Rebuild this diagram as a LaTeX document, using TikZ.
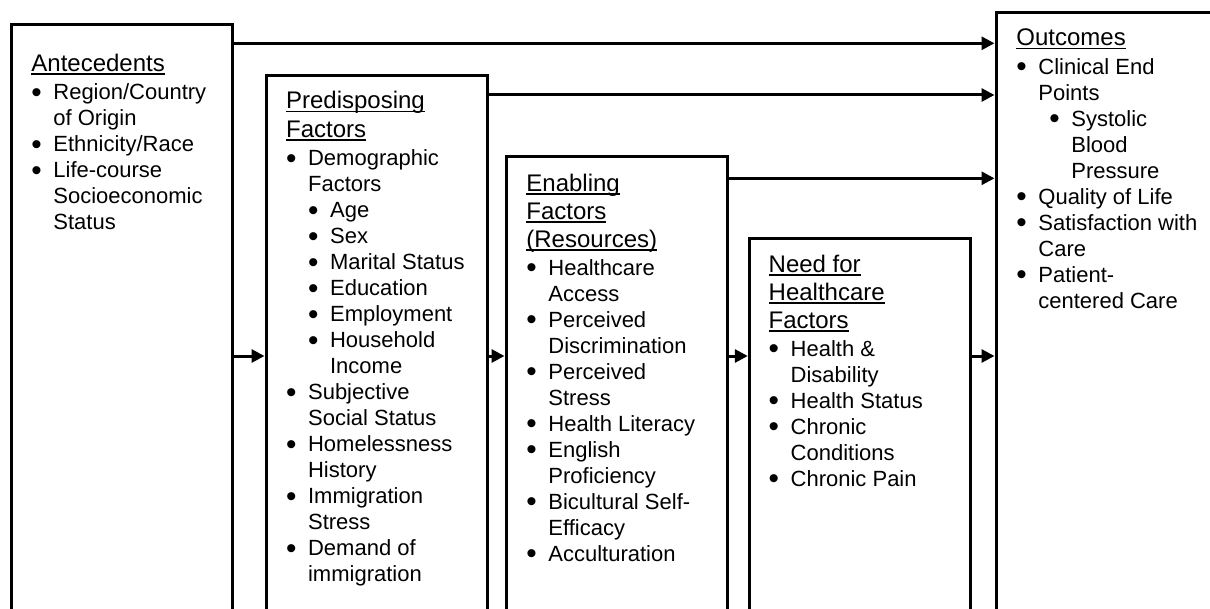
\documentclass[tikz,border=0pt]{standalone}
\usepackage{graphicx}
\usepackage{fontspec}
\setmainfont{Liberation Sans}
\usetikzlibrary{arrows.meta,positioning,calc}

% underlined heading, bullet, hanging indent
\newsavebox{\ulbox}
\newcommand{\hd}[1]{\sbox{\ulbox}{\fontsize{12}{13}\selectfont #1}\rlap{\rule[-1.8pt]{\wd\ulbox}{0.8pt}}\usebox{\ulbox}}
\newcommand{\bl}{\makebox[11pt][l]{\raisebox{-1.2pt}{\scalebox{1.35}{\textbullet}}}}
\newcommand{\cn}{\hspace*{11pt}}

\begin{document}
\begin{tikzpicture}[
  x=0.5pt, y=-0.5pt,
  box/.style={draw, line width=1.5pt, anchor=north west, outer sep=0pt, inner sep=0pt, minimum width=110.75pt, minimum height=330pt},
  txt/.style={anchor=north west, align=left, inner sep=0pt, font=\fontsize{11}{13}\selectfont},
  arr/.style={-{Triangle[length=6.5pt,width=6.5pt]}, line width=1.5pt, shorten >=0.75pt}
]
\useasboundingbox (0,0) rectangle (1210,609);
\clip (0,0) rectangle (1210,609);

% boxes, open at the bottom edge
\node[box] (ante) at (11,24.3) {};
\node[box] (pred) at (266,75.7) {};
\node[box] (enab) at (506,156.7) {};
\node[box] (need) at (749.3,239) {};
\node[box, minimum width=120pt] (outc) at (996,12.7) {};

% texts
\node[txt] (antet) at (31,53.5) {\hd{Antecedents}\\[1.3pt]
  \bl Region/Country\\ \cn of Origin\\ \bl Ethnicity/Race\\
  \bl Life-course\\ \cn Socioeconomic\\ \cn Status};
\node[txt] (predt) at (285.7,90.8) {\hd{Predisposing}\\[1.3pt] \hd{Factors}\\[1.3pt]
  \bl Demographic\\ \cn Factors\\
  \cn\bl Age\\ \cn\bl Sex\\ \cn\bl Marital Status\\ \cn\bl Education\\
  \cn\bl Employment\\ \cn\bl Household\\ \cn\cn Income\\
  \bl Subjective\\ \cn Social Status\\ \bl Homelessness\\ \cn History\\
  \bl Immigration\\ \cn Stress\\ \bl Demand of\\ \cn immigration};
\node[txt] (enabt) at (526,173.5) {\hd{Enabling}\\[1pt] \hd{Factors}\\[1pt] \hd{(Resources)}\\[1pt]
  \bl Healthcare\\ \cn Access\\ \bl Perceived\\ \cn Discrimination\\
  \bl Perceived\\ \cn Stress\\ \bl Health Literacy\\ \bl English\\ \cn Proficiency\\
  \bl Bicultural Self-\\ \cn Efficacy\\ \bl Acculturation};
\node[txt] (needt) at (768.3,254.5) {\hd{Need for}\\[1pt] \hd{Healthcare}\\[1pt] \hd{Factors}\\[1pt]
  \bl Health \&\\ \cn Disability\\ \bl Health Status\\
  \bl Chronic\\ \cn Conditions\\ \bl Chronic Pain};
\node[txt] (outct) at (1016,28.5) {\hd{Outcomes}\\[1.3pt]
  \bl Clinical End\\ \cn Points\\
  \hspace*{16.5pt}\bl Systolic\\ \hspace*{27.5pt}Blood\\ \hspace*{27.5pt}Pressure\\
  \bl Quality of Life\\ \bl Satisfaction with\\ \cn Care\\
  \bl Patient-\\ \cn centered Care};

% connectors
\coordinate (row) at (0,356);
\draw[arr] ([yshift=-9.5pt]ante.north east) -- ([yshift=-9.5pt]ante.north east -| outc.west);
\draw[arr] ([yshift=-9.65pt]pred.north east) -- ([yshift=-9.65pt]pred.north east -| outc.west);
\draw[arr] ([yshift=-10.8pt]enab.north east) -- ([yshift=-10.8pt]enab.north east -| outc.west);
\draw[arr] (ante.east |- row) -- (pred.west |- row);
\draw[arr] (pred.east |- row) -- (enab.west |- row);
\draw[arr] (enab.east |- row) -- (need.west |- row);
\draw[arr] (need.east |- row) -- (outc.west |- row);
\end{tikzpicture}
\end{document}
